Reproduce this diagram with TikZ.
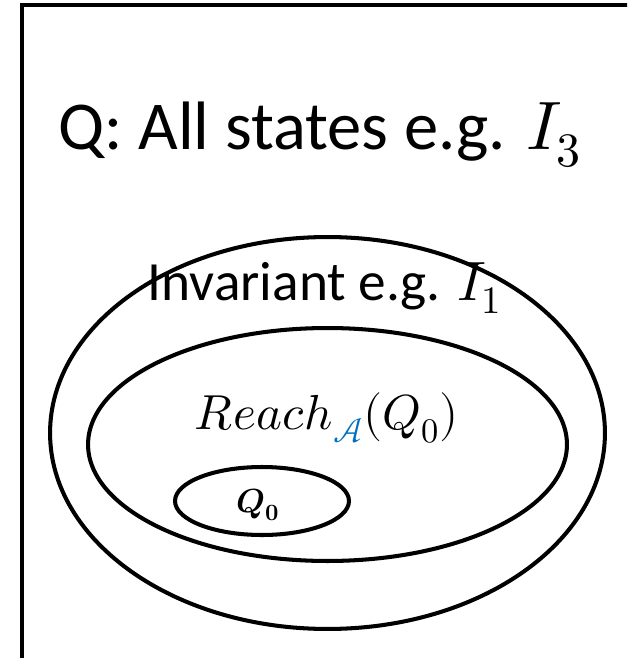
\documentclass[tikz,border=0pt]{standalone}
\usepackage{fontspec}
\usepackage{unicode-math}
\setmainfont{Carlito}
\setmathfont{Latin Modern Math}
\definecolor{calblue}{RGB}{0,112,192}
\begin{document}
\begin{tikzpicture}[x=0.02cm, y=-0.02cm, set/.style={line width=2.3pt}, lbl/.style={font=\fontsize{31.5}{38}\selectfont}]
\useasboundingbox (0,0) rectangle (627,658);
\clip (0,0) rectangle (627,658);
% frame of Q, cut by the page
\draw[line width=2.8pt] (22,700) -- (22,5) -- (700,5);
% nested sets
\draw[set] (327.5,433) ellipse [x radius=5.55cm, y radius=3.92cm];
\draw[set] (327.5,444.5) ellipse [x radius=4.79cm, y radius=2.33cm];
\draw[set] (262,501) ellipse [x radius=1.74cm, y radius=0.68cm];
\node[lbl, font=\fontsize{39}{45}\selectfont] (all) at (320,135) {Q: All states e.g. $I_3$};
\node[lbl] (inv) at (325,288) {Invariant e.g. $I_1$};
\node[lbl, font=\fontsize{28}{34}\selectfont] (reach) at (327,418) {$Reach_{\color{calblue}\mathcal{A}}(Q_0)$};
\node[font=\fontsize{19}{23}\selectfont] (init) at (258,505) {$\symbfit{Q}_{\symbf{0}}$};
\end{tikzpicture}
\end{document}
